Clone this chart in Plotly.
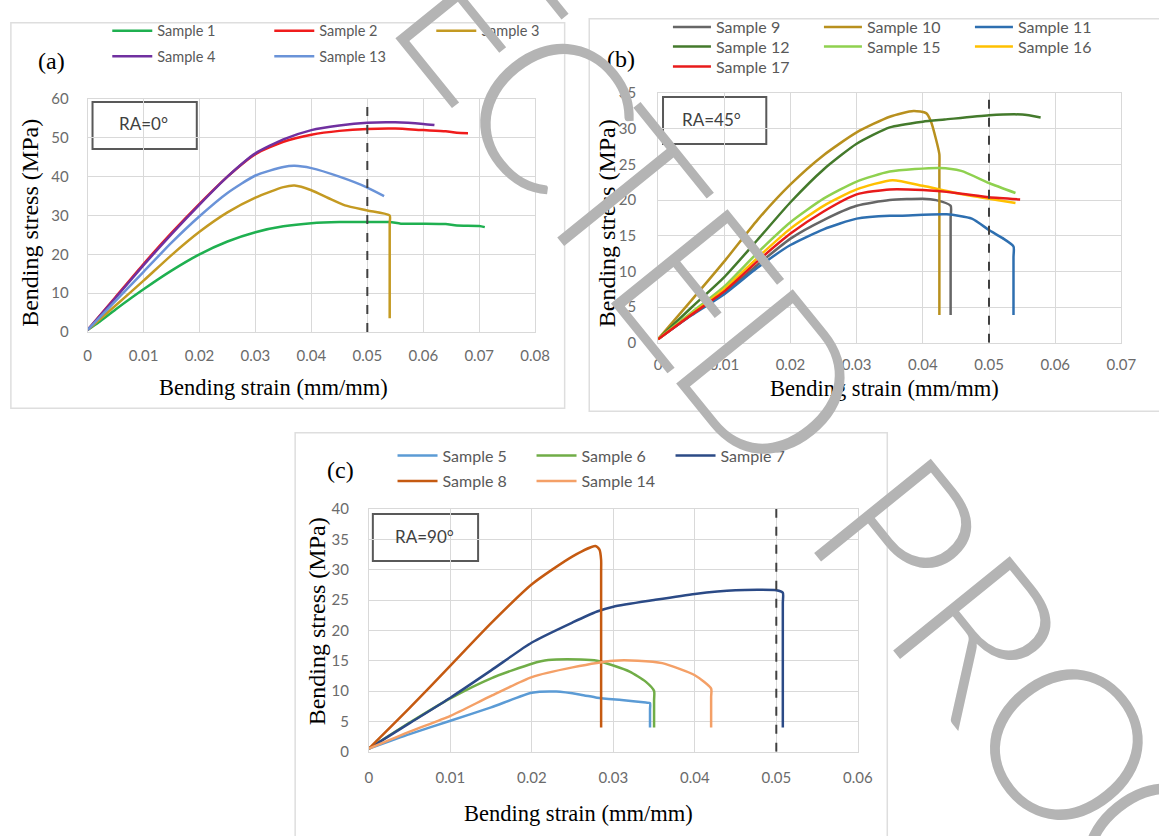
import math
import plotly.graph_objects as go

W, H = 1159, 836

# ---------------- Panel (a)  RA=0°
a_s1_x = [0, 0.002, 0.005, 0.01, 0.015, 0.02, 0.025, 0.03, 0.035, 0.04, 0.045, 0.05, 0.054, 0.056, 0.06, 0.064, 0.066, 0.07, 0.071]
a_s1_y = [0.5, 2.5, 5.8, 11, 15.8, 20, 23.3, 25.7, 27.2, 28, 28.3, 28.3, 28.3, 27.9, 27.9, 27.8, 27.4, 27.3, 27.0]
a_s2_x = [0, 0.005, 0.01, 0.015, 0.02, 0.025, 0.03, 0.035, 0.04, 0.045, 0.05, 0.055, 0.06, 0.064, 0.066, 0.068]
a_s2_y = [0.5, 9, 17.5, 25.5, 33, 40, 45.8, 49, 50.8, 51.8, 52.3, 52.4, 52.0, 51.7, 51.3, 51.2]
a_s3_x = [0, 0.005, 0.01, 0.015, 0.02, 0.025, 0.03, 0.035, 0.037, 0.04, 0.043, 0.046, 0.05, 0.054, 0.054, 0.054]
a_s3_y = [0.5, 6.8, 13.2, 19.8, 25.8, 30.8, 34.6, 37.3, 37.7, 36.5, 34.5, 32.6, 31.3, 30.0, 28.0, 3.5]
a_s4_x = [0, 0.005, 0.01, 0.015, 0.02, 0.025, 0.03, 0.035, 0.04, 0.045, 0.05, 0.055, 0.06, 0.062]
a_s4_y = [0.5, 8.8, 17.2, 25.2, 32.8, 40, 46, 49.6, 52, 53.2, 53.9, 54, 53.6, 53.3]
a_s13_x = [0, 0.005, 0.01, 0.015, 0.02, 0.025, 0.03, 0.035, 0.037, 0.04, 0.045, 0.05, 0.053]
a_s13_y = [0.5, 8, 15.5, 23, 29.8, 35.8, 40.3, 42.5, 42.8, 42.2, 40, 37.2, 35]

# ---------------- Panel (b)  RA=45°
b_s9_x = [0, 0.005, 0.01, 0.015, 0.02, 0.025, 0.03, 0.035, 0.04, 0.042, 0.0442, 0.0442, 0.0442]
b_s9_y = [0.5, 3.9, 7.0, 10.9, 14.6, 17.2, 19.2, 20.0, 20.2, 20.0, 19.2, 17.5, 3.9]
b_s10_x = [0, 0.005, 0.01, 0.015, 0.02, 0.025, 0.03, 0.035, 0.0386, 0.0405, 0.0412, 0.042, 0.0425, 0.0425, 0.0425]
b_s10_y = [0.5, 5.9, 11.4, 17.2, 22.2, 26.3, 29.5, 31.7, 32.5, 32.2, 31.1, 28.5, 26.4, 24.5, 3.9]
b_s11_x = [0, 0.005, 0.01, 0.015, 0.02, 0.025, 0.03, 0.035, 0.0367, 0.0436, 0.0474, 0.05, 0.052, 0.0537, 0.0537, 0.0537]
b_s11_y = [0.5, 3.8, 6.8, 10.5, 13.7, 15.9, 17.4, 17.8, 17.8, 18.0, 17.4, 15.8, 14.7, 13.5, 12.0, 3.9]
b_s12_x = [0, 0.005, 0.01, 0.015, 0.02, 0.025, 0.03, 0.035, 0.04, 0.0433, 0.05, 0.055, 0.0578]
b_s12_y = [0.5, 4.9, 9.2, 14.4, 19.7, 24.3, 27.9, 30.2, 31.0, 31.3, 31.9, 32.0, 31.6]
b_s15_x = [0, 0.005, 0.01, 0.015, 0.02, 0.025, 0.03, 0.035, 0.0425, 0.0458, 0.05, 0.054]
b_s15_y = [0.5, 4.2, 7.9, 12.6, 16.9, 20.2, 22.6, 24.0, 24.5, 24.1, 22.4, 21.0]
b_s16_x = [0, 0.005, 0.01, 0.015, 0.02, 0.025, 0.03, 0.0354, 0.04, 0.045, 0.05, 0.054]
b_s16_y = [0.5, 4.0, 7.5, 11.9, 16.0, 19.2, 21.5, 22.8, 22.0, 21.0, 20.2, 19.6]
b_s17_x = [0, 0.005, 0.01, 0.015, 0.02, 0.025, 0.03, 0.035, 0.04, 0.045, 0.05, 0.0547]
b_s17_y = [0.5, 3.9, 7.2, 11.4, 15.3, 18.4, 20.8, 21.5, 21.4, 21.0, 20.4, 20.1]

# ---------------- Panel (c)  RA=90°
c_s5_x = [0, 0.005, 0.01, 0.015, 0.02, 0.023, 0.026, 0.028, 0.031, 0.034, 0.0345, 0.0345, 0.0345]
c_s5_y = [0.5, 2.9, 5.1, 7.3, 9.7, 9.9, 9.4, 8.9, 8.5, 8.1, 8.0, 7.0, 4.0]
c_s6_x = [0, 0.005, 0.01, 0.015, 0.02, 0.022, 0.026, 0.028, 0.03, 0.032, 0.034, 0.035, 0.035, 0.035]
c_s6_y = [0.5, 4.8, 8.8, 12.1, 14.5, 15.1, 15.2, 15.0, 14.2, 13.2, 11.5, 10.0, 8.5, 4.0]
c_s7_x = [0, 0.005, 0.01, 0.015, 0.02, 0.025, 0.028, 0.03, 0.035, 0.04, 0.045, 0.05, 0.0508, 0.0508, 0.0508]
c_s7_y = [0.5, 4.7, 8.9, 13.4, 18.0, 21.3, 23.1, 23.9, 25.0, 26.0, 26.6, 26.6, 26.2, 24.5, 4.0]
c_s8_x = [0, 0.005, 0.01, 0.015, 0.02, 0.025, 0.0278, 0.0283, 0.0285, 0.0285, 0.0285]
c_s8_y = [0.5, 7.2, 14.2, 21.2, 27.6, 32.2, 33.9, 33.3, 31.6, 29.5, 4.0]
c_s14_x = [0, 0.005, 0.01, 0.015, 0.02, 0.025, 0.03, 0.033, 0.036, 0.04, 0.042, 0.042, 0.042]
c_s14_y = [0.5, 3.3, 5.9, 9.2, 12.3, 13.9, 15.0, 15.0, 14.6, 12.6, 10.4, 9.0, 4.0]

# limit strain (dashed line)
limit_strain = 0.05

# ticks
a_xticks = [0, 0.01, 0.02, 0.03, 0.04, 0.05, 0.06, 0.07, 0.08]
a_xlabels = ["0", "0.01", "0.02", "0.03", "0.04", "0.05", "0.06", "0.07", "0.08"]
a_yticks = [0, 10, 20, 30, 40, 50, 60]
b_xticks = [0, 0.01, 0.02, 0.03, 0.04, 0.05, 0.06, 0.07]
b_xlabels = ["0", "0.01", "0.02", "0.03", "0.04", "0.05", "0.06", "0.07"]
b_yticks = [0, 5, 10, 15, 20, 25, 30, 35]
c_xticks = [0, 0.01, 0.02, 0.03, 0.04, 0.05, 0.06]
c_xlabels = ["0", "0.01", "0.02", "0.03", "0.04", "0.05", "0.06"]
c_yticks = [0, 5, 10, 15, 20, 25, 30, 35, 40]

# watermark text
watermark_text = "UNCORRECTED PROOF"

fig = go.Figure()

def add(x, y, name, color, xa, ya, legend):
    fig.add_trace(go.Scatter(x=x, y=y, mode="lines", name=name,
                             line=dict(color=color, width=2.5, shape="spline", smoothing=0.6),
                             xaxis=xa, yaxis=ya, legend=legend))

# (a)
add(a_s1_x, a_s1_y, "Sample 1", "#1fb050", "x", "y", "legend")
add(a_s2_x, a_s2_y, "Sample 2", "#f01c1c", "x", "y", "legend")
add(a_s3_x, a_s3_y, "Sample 3", "#c49a22", "x", "y", "legend")
add(a_s4_x, a_s4_y, "Sample 4", "#7030a0", "x", "y", "legend2")
add(a_s13_x, a_s13_y, "Sample 13", "#6a93d8", "x", "y", "legend2")
# (b)
add(b_s9_x, b_s9_y, "Sample 9", "#666666", "x2", "y2", "legend3")
add(b_s10_x, b_s10_y, "Sample 10", "#b8901e", "x2", "y2", "legend3")
add(b_s11_x, b_s11_y, "Sample 11", "#2e6fb0", "x2", "y2", "legend3")
add(b_s12_x, b_s12_y, "Sample 12", "#447a2c", "x2", "y2", "legend4")
add(b_s15_x, b_s15_y, "Sample 15", "#8fd14f", "x2", "y2", "legend4")
add(b_s16_x, b_s16_y, "Sample 16", "#ffc000", "x2", "y2", "legend4")
add(b_s17_x, b_s17_y, "Sample 17", "#e81b1b", "x2", "y2", "legend5")
# (c)
add(c_s5_x, c_s5_y, "Sample 5", "#5b9bd5", "x3", "y3", "legend6")
add(c_s6_x, c_s6_y, "Sample 6", "#70ad47", "x3", "y3", "legend6")
add(c_s7_x, c_s7_y, "Sample 7", "#2b4a86", "x3", "y3", "legend6")
add(c_s8_x, c_s8_y, "Sample 8", "#c55a11", "x3", "y3", "legend7")
add(c_s14_x, c_s14_y, "Sample 14", "#f4a067", "x3", "y3", "legend7")

# dashed limit lines
for xa, ya, ytop in [("x", "y", 60), ("x2", "y2", 35), ("x3", "y3", 40)]:
    fig.add_trace(go.Scatter(x=[limit_strain, limit_strain], y=[0, ytop], mode="lines",
                             line=dict(color="#404040", width=2, dash="dash"),
                             showlegend=False, xaxis=xa, yaxis=ya, hoverinfo="skip"))

def px(v):
    return v / W

def py(v):
    return 1 - v / H

grid = "#d9d9d9"
tickfont = dict(family="Lato", size=15, color="#6b6b6b")

def xax(dom, anchor, rng, tv, tt, stand):
    return dict(domain=[px(dom[0]), px(dom[1])], anchor=anchor, range=rng,
                tickvals=tv, ticktext=tt, showgrid=True, gridcolor=grid, gridwidth=1,
                zeroline=False, showline=True, linecolor=grid, linewidth=1, mirror=True,
                ticks="", tickfont=tickfont, ticklabelstandoff=stand, fixedrange=True)

def yax(dom, anchor, rng, tv, stand):
    return dict(domain=[py(dom[1]), py(dom[0])], anchor=anchor, range=rng,
                tickvals=tv, showgrid=True, gridcolor=grid, gridwidth=1,
                zeroline=False, showline=True, linecolor=grid, linewidth=1, mirror=True,
                ticks="", tickfont=tickfont, ticklabelstandoff=stand, fixedrange=True)

def leg(x, ytop, fs, iw, ew):
    return dict(x=px(x), y=py(ytop), xanchor="left", yanchor="top", orientation="h",
                bgcolor="rgba(0,0,0,0)", borderwidth=0, itemwidth=iw,
                entrywidth=ew, entrywidthmode="pixels",
                font=dict(family="Lato", size=fs, color="#595959"))

serif = "Liberation Serif"

annotations = []
def ann(text, x, y, size, family=serif, color="black", angle=0, weight=None):
    f = dict(family=family, size=size, color=color)
    if weight is not None:
        f["weight"] = weight
    annotations.append(dict(text=text, x=px(x), y=py(y), xref="paper", yref="paper",
                            showarrow=False, xanchor="center", yanchor="middle",
                            textangle=angle, font=f))

# panel labels
ann("(a)", 48, 52, 24)
ann("(b)", 627, 50, 24)
ann("(c)", 342, 470, 24)
# axis titles
ann("Bending stress (MPa)", 27, 218, 24, angle=-90)
ann("Bending strain (mm/mm)", 274, 386, 22.5)
ann("Bending stress (MPa)", 613, 218, 24, angle=-90)
ann("Bending strain (mm/mm)", 895, 387, 22.5)
ann("Bending stress (MPa)", 318, 625, 24, angle=-90)
ann("Bending strain (mm/mm)", 584, 821, 22.5)
# RA boxes text
ann("RA=0°", 142, 116, 17, family="Lato", color="#404040")
ann("RA=45°", 719, 112, 17, family="Lato", color="#404040")
ann("RA=90°", 427, 538, 17, family="Lato", color="#404040")

# watermark: letters laid along a line rotated by 51 degrees (only the part inside the page)
wm_font = "Lato Light, Roboto Light, Lato"
wm_angle = 51
wm_origin = (560, 97)          # centre of the second "C"
wm_offsets = [-850, -725, -600, -475, -351, -233, -115, 0, 112, 233, 358, None,
              562, 693, 835, 985, 1120]
dx, dy = math.cos(math.radians(wm_angle)), math.sin(math.radians(wm_angle))
for ch, s in zip(watermark_text, wm_offsets):
    if s is None:
        continue
    cx, cy = wm_origin[0] + s * dx, wm_origin[1] + s * dy
    if -60 < cx < W + 60 and -60 < cy < H + 60:
        ann(ch, cx, cy, 212, family=wm_font, color="#b4b4b4", angle=wm_angle, weight=300)

shapes = []
def rect(x0, y0, x1, y1, color, width):
    shapes.append(dict(type="rect", xref="paper", yref="paper",
                       x0=px(x0), x1=px(x1), y0=py(y1), y1=py(y0),
                       line=dict(color=color, width=width), fillcolor="rgba(0,0,0,0)",
                       layer="below"))

# panel frames
rect(7, 13, 570, 407, "#dedede", 1.5)
rect(595, 9, 1175, 410, "#dedede", 1.5)
rect(296, 432, 898, 850, "#dedede", 1.5)
# RA boxes
rect(90, 94, 196, 142, "#595959", 2)
rect(670, 89, 775, 137, "#595959", 2)
rect(375, 515, 482, 563, "#595959", 2)

fig.update_layout(
    width=W, height=H, margin=dict(l=0, r=0, t=0, b=0),
    paper_bgcolor="white", plot_bgcolor="rgba(0,0,0,0)",
    xaxis=xax((85, 540), "y", [0, 0.08], a_xticks, a_xlabels, 10),
    yaxis=yax((91, 329), "x", [0, 60], a_yticks, 15),
    xaxis2=xax((665, 1136), "y2", [0, 0.07], b_xticks, b_xlabels, 8),
    yaxis2=yax((85, 340), "x2", [0, 35], b_yticks, 18),
    xaxis3=xax((371, 868), "y3", [0, 0.06], c_xticks, c_xlabels, 12),
    yaxis3=yax((510, 758), "x3", [0, 40], c_yticks, 16),
    legend=leg(105, 5, 14.5, 40, 107),
    legend2=leg(105, 31, 14.5, 40, 107),
    legend3=leg(675, 0, 16, 38, 98),
    legend4=leg(675, 20, 16, 38, 98),
    legend5=leg(675, 40.5, 16, 38, 98),
    legend6=leg(395, 438.1, 16, 40, 84),
    legend7=leg(395, 464.1, 16, 40, 84),
    annotations=annotations,
    shapes=shapes,
)

fig.write_html("out.html")
